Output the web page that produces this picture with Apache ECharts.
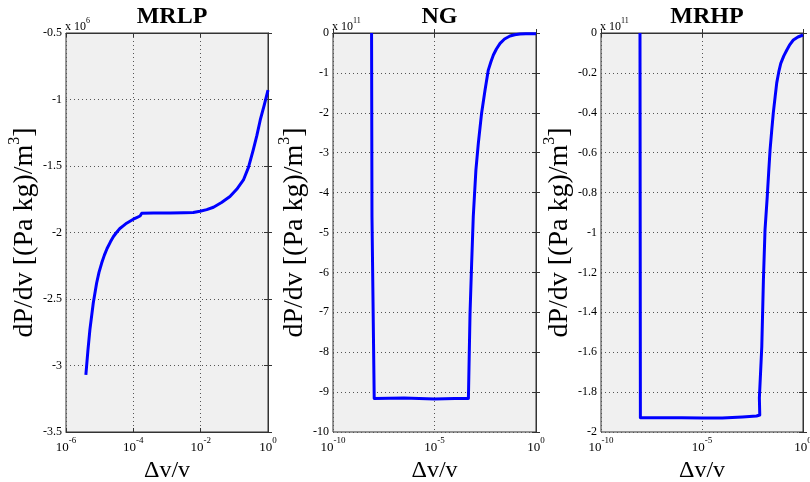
<!DOCTYPE html>
<html>
<head>
<meta charset="utf-8">
<script src="https://cdn.jsdelivr.net/npm/echarts@6/dist/echarts.min.js"></script>
<style>html,body{margin:0;padding:0;background:#fff;}#c{width:810px;height:482px;}</style>
</head>
<body>
<div id="c"></div>
<script>
// Panel titles and exponents
const panelTitles = ['MRLP', 'NG', 'MRHP'];
const yExponents = ['6', '11', '11'];

// x values are log10(Δv/v); y values are dP/dv in units of 10^exponent
const mrlpLogDv = [-5.41, -5.35, -5.29, -5.19, -5.09, -5.02, -4.94, -4.86, -4.78, -4.68, -4.59, -4.50, -4.40, -4.30, -4.20, -4.10, -4.00, -3.90, -3.80, -3.75, -3.40, -2.90, -2.50, -2.22, -2.02, -1.82, -1.62, -1.38, -1.13, -0.93, -0.73, -0.58, -0.44, -0.33, -0.23, -0.11, 0.00];
const mrlpDpdv  = [-3.07, -2.89, -2.73, -2.53, -2.38, -2.30, -2.23, -2.17, -2.12, -2.07, -2.03, -2.00, -1.97, -1.95, -1.93, -1.915, -1.90, -1.888, -1.876, -1.855, -1.854, -1.853, -1.852, -1.850, -1.84, -1.828, -1.81, -1.775, -1.73, -1.675, -1.605, -1.51, -1.38, -1.27, -1.154, -1.04, -0.93];

const ngLogDv = [-8.10, -8.08, -7.97, -6.50, -5.00, -4.00, -3.33, -3.25, -3.17, -3.09, -2.96, -2.84, -2.68, -2.51, -2.35, -2.22, -2.10, -1.95, -1.77, -1.55, -1.28, -1.05, -0.79, -0.50, 0.00];
const ngDpdv  = [0.00, -4.60, -9.16, -9.15, -9.17, -9.16, -9.16, -7.03, -5.77, -4.60, -3.43, -2.76, -2.01, -1.43, -0.93, -0.72, -0.55, -0.40, -0.26, -0.15, -0.075, -0.045, -0.025, -0.02, -0.02];

const mrhpLogDv = [-8.07, -8.06, -8.05, -6.00, -5.00, -4.00, -3.00, -2.30, -2.14, -2.16, -2.04, -1.96, -1.88, -1.77, -1.70, -1.63, -1.55, -1.47, -1.38, -1.30, -1.20, -1.10, -0.95, -0.80, -0.65, -0.48, -0.25, 0.00];
const mrhpDpdv  = [0.00, -0.97, -1.928, -1.929, -1.930, -1.930, -1.925, -1.920, -1.915, -1.83, -1.572, -1.238, -0.987, -0.82, -0.70, -0.586, -0.49, -0.40, -0.32, -0.25, -0.195, -0.152, -0.115, -0.085, -0.058, -0.035, -0.02, -0.01];

// Axis ranges / ticks
const xMins = [-6, -10, -10];
const xIntervals = [2, 5, 5];
const yMins = [-3.5, -10, -2];
const yMaxs = [-0.5, 0, 0];
const yIntervals = [0.5, 1, 0.2];

const seriesX = [mrlpLogDv, ngLogDv, mrhpLogDv];
const seriesY = [mrlpDpdv, ngDpdv, mrhpDpdv];

const FONT = 'Liberation Serif';
const grids = [
  {left: 66, top: 33, width: 202, height: 399},
  {left: 333, top: 33, width: 203, height: 399},
  {left: 601, top: 33, width: 202, height: 399}
];

const option = {
  backgroundColor: '#ffffff',
  animation: false,
  textStyle: {fontFamily: FONT},
  grid: grids.map(g => Object.assign({show: true, backgroundColor: '#f0f0f0', borderColor: '#333', borderWidth: 1, containLabel: false, outerBoundsMode: 'none'}, g)),
  title: [],
  xAxis: [],
  yAxis: [],
  series: []
};

for (let i = 0; i < 3; i++) {
  const g = grids[i];
  option.title.push({
    text: panelTitles[i],
    left: g.left + g.width / 2, top: 0, textAlign: 'center',
    textStyle: {fontFamily: FONT, fontSize: 24, fontWeight: 'bold', color: '#000'}
  });
  option.title.push({
    text: '{a|x 10}{s|' + yExponents[i] + '}',
    left: g.left - 1, top: 17, padding: 0,
    textStyle: {fontWeight: 'normal', rich: {
      a: {fontFamily: FONT, fontSize: 12, fontWeight: 'normal', color: '#000', verticalAlign: 'bottom', lineHeight: 16},
      s: {fontFamily: FONT, fontSize: 8, fontWeight: 'normal', color: '#000', verticalAlign: 'top', lineHeight: 16}
    }}
  });
  option.xAxis.push({
    type: 'value', gridIndex: i, min: xMins[i], max: 0, interval: xIntervals[i],
    position: 'bottom',
    name: 'Δv/v', nameLocation: 'middle', nameGap: 18,
    nameTextStyle: {fontFamily: FONT, fontSize: 24, color: '#000'},
    axisLine: {show: true, lineStyle: {color: '#333'}},
    axisTick: {show: true, inside: true, length: 4, lineStyle: {color: '#333'}},
    splitLine: {show: true, lineStyle: {color: '#555', type: [1, 3], width: 1}},
    axisLabel: {
      margin: 4,
      formatter: v => '{b|10}{s|' + v + '}',
      rich: {
        b: {fontFamily: FONT, fontSize: 13, color: '#000', verticalAlign: 'bottom', lineHeight: 18},
        s: {fontFamily: FONT, fontSize: 9, color: '#000', verticalAlign: 'top', lineHeight: 18}
      }
    }
  });
  option.xAxis.push({
    type: 'value', gridIndex: i, min: xMins[i], max: 0, interval: xIntervals[i],
    position: 'top',
    axisLine: {show: true, lineStyle: {color: '#333'}},
    axisTick: {show: true, inside: true, length: 4, lineStyle: {color: '#333'}},
    splitLine: {show: false}, axisLabel: {show: false}
  });
  option.yAxis.push({
    type: 'value', gridIndex: i, min: yMins[i], max: yMaxs[i], interval: yIntervals[i],
    position: 'left',
    name: '{a|dP/dv [(Pa kg)/m}{s|3}{a|]}',
    nameLocation: 'middle', nameGap: 24, nameRotate: 90,
    nameTextStyle: {rich: {
      a: {fontFamily: FONT, fontSize: 28, color: '#000', verticalAlign: 'bottom', lineHeight: 32},
      s: {fontFamily: FONT, fontSize: 16, color: '#000', verticalAlign: 'top', lineHeight: 32}
    }},
    axisLine: {show: true, lineStyle: {color: '#333'}},
    axisTick: {show: true, inside: true, length: 4, lineStyle: {color: '#333'}},
    splitLine: {show: true, lineStyle: {color: '#555', type: [1, 3], width: 1}},
    axisLabel: {margin: 4, fontFamily: FONT, fontSize: 12, color: '#000'}
  });
  option.yAxis.push({
    type: 'value', gridIndex: i, min: yMins[i], max: yMaxs[i], interval: yIntervals[i],
    position: 'right',
    axisLine: {show: true, lineStyle: {color: '#333'}},
    axisTick: {show: true, inside: true, length: 4, lineStyle: {color: '#333'}},
    splitLine: {show: false}, axisLabel: {show: false}
  });
  option.series.push({
    type: 'line', xAxisIndex: 2 * i, yAxisIndex: 2 * i,
    data: seriesX[i].map((x, k) => [x, seriesY[i][k]]),
    showSymbol: false, symbol: 'none', smooth: false,
    lineStyle: {color: '#0000ff', width: 3, join: 'round'}, clip: true
  });
}

const chart = echarts.init(document.getElementById('c'), null, {renderer: 'canvas'});
chart.setOption(option);
</script>
</body>
</html>
